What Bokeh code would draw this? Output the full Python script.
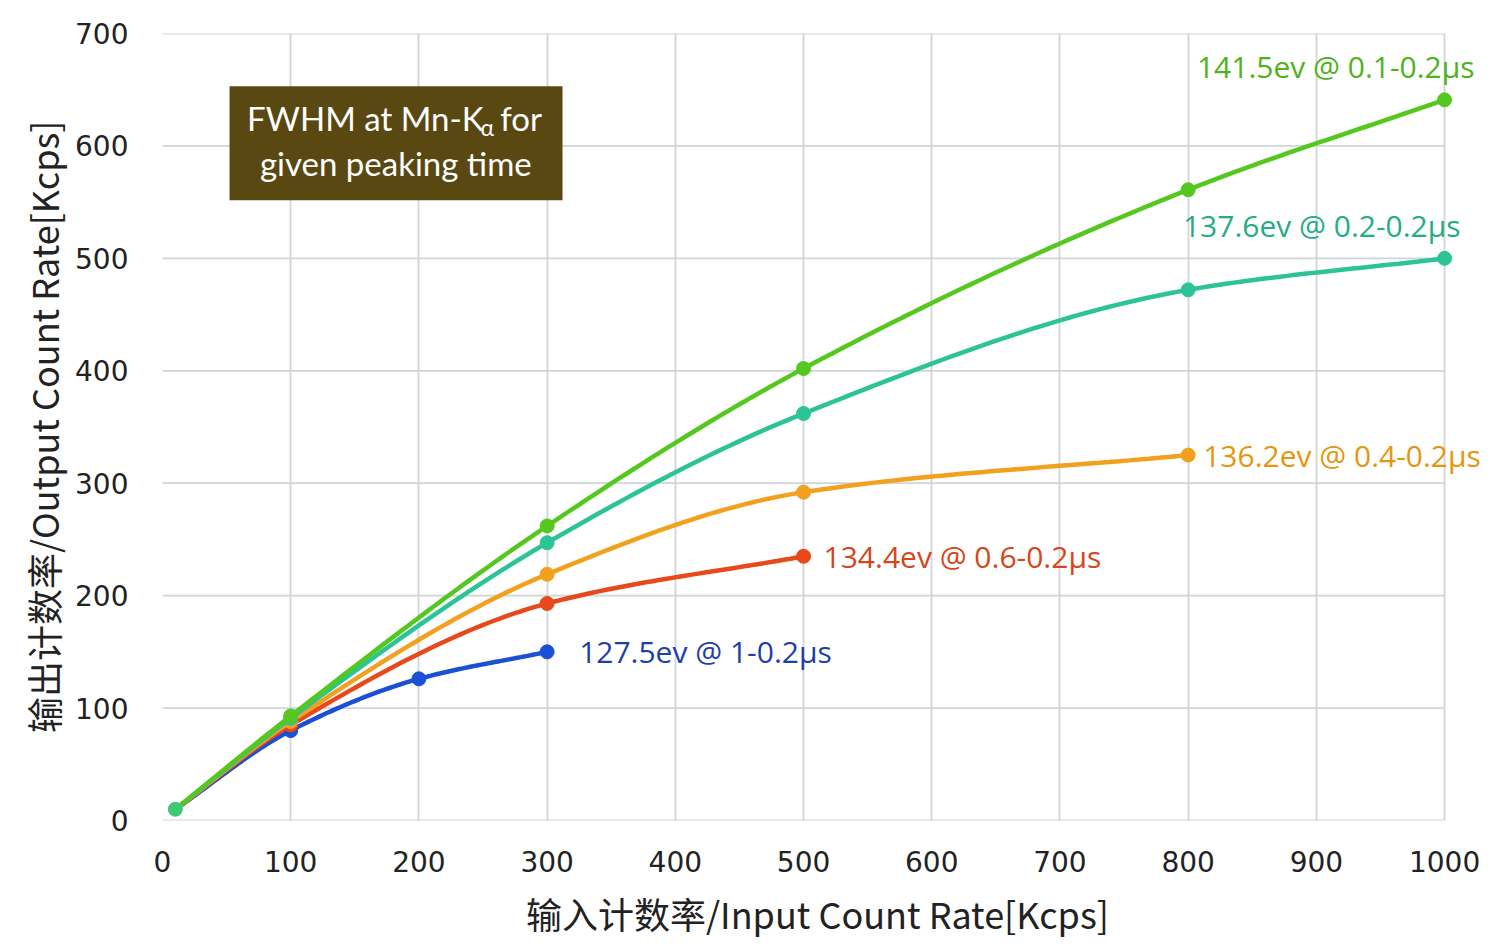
import numpy as np
from bokeh.plotting import figure
from bokeh.models import Range1d, FixedTicker, Label, BoxAnnotation
from bokeh.embed import file_html
from bokeh.resources import INLINE

# ---------------- data ----------------
x_blue = [10, 100, 200, 300]
y_blue = [10, 80, 126, 150]
x_red = [10, 100, 300, 500]
y_red = [10, 85, 193, 235]
x_orange = [10, 100, 300, 500, 800]
y_orange = [10, 88, 219, 292, 325]
x_teal = [10, 100, 300, 500, 800, 1000]
y_teal = [10, 91, 247, 362, 472, 500]
x_green = [10, 100, 300, 500, 800, 1000]
y_green = [10, 93, 262, 402, 561, 641]

labels = ["127.5ev @ 1-0.2μs", "134.4ev @ 0.6-0.2μs", "136.2ev @ 0.4-0.2μs",
          "137.6ev @ 0.2-0.2μs", "141.5ev @ 0.1-0.2μs"]
x_ticks = [0, 100, 200, 300, 400, 500, 600, 700, 800, 900, 1000]
y_ticks = [0, 100, 200, 300, 400, 500, 600, 700]

series = [
    (x_blue, y_blue, "#1a4fd6", "#1e3fa8"),
    (x_red, y_red, "#e8481a", "#d4461c"),
    (x_orange, y_orange, "#f2a11e", "#e5960f"),
    (x_teal, y_teal, "#2cc396", "#24ad85"),
    (x_green, y_green, "#55c81f", "#4fb21c"),
]
# label placement (pixels, relative to last point)
label_style = [
    dict(x_offset=32, y_offset=0, text_align="left"),
    dict(x_offset=20, y_offset=0, text_align="left"),
    dict(x_offset=15, y_offset=0, text_align="left"),
    dict(x_offset=16, y_offset=33, text_align="right"),
    dict(x_offset=30, y_offset=33, text_align="right"),
]


def smooth(xs, ys, n=40):
    """Monotone cubic (Fritsch-Carlson) curve through the given points, for drawing."""
    x = np.asarray(xs, float)
    y = np.asarray(ys, float)
    h = np.diff(x)
    d = np.diff(y) / h
    m = np.zeros_like(x)
    m[0], m[-1] = d[0], d[-1]
    for i in range(1, len(x) - 1):
        if d[i - 1] * d[i] <= 0:
            m[i] = 0
        else:
            w1 = 2 * h[i] + h[i - 1]
            w2 = h[i] + 2 * h[i - 1]
            m[i] = (w1 + w2) / (w1 / d[i - 1] + w2 / d[i])
    outx, outy = [], []
    for i in range(len(x) - 1):
        t = np.linspace(0, 1, n)
        h00 = 2 * t**3 - 3 * t**2 + 1
        h10 = t**3 - 2 * t**2 + t
        h01 = -2 * t**3 + 3 * t**2
        h11 = t**3 - t**2
        outx.extend(x[i] + t * h[i])
        outy.extend(h00 * y[i] + h10 * h[i] * m[i] + h01 * y[i + 1] + h11 * h[i] * m[i + 1])
    return outx, outy


x_max = x_ticks[-1]
y_max = y_ticks[-1]
grid_col = "#d0d5d8"

# frame is widened a little to the right so the series labels can extend past x=1000
p = figure(width=1484, height=941, output_backend="svg", toolbar_location=None,
           x_range=Range1d(0, 1028), y_range=Range1d(0, y_max),
           min_border_left=162, min_border_right=4, min_border_top=33, min_border_bottom=121)
p.background_fill_color = "white"
p.border_fill_color = "white"
p.outline_line_color = None

for ax in (p.xaxis[0], p.yaxis[0]):
    ax.axis_line_color = None
    ax.major_tick_line_color = None
    ax.minor_tick_line_color = None
    ax.major_label_text_font = "DejaVu Sans"
    ax.major_label_text_font_size = "28px"
    ax.major_label_text_color = "#222222"
    ax.axis_label_text_font = "Noto Sans CJK SC"
    ax.axis_label_text_font_size = "36px"
    ax.axis_label_text_font_style = "normal"
    ax.axis_label_text_color = "#222222"

p.xaxis.ticker = FixedTicker(ticks=x_ticks)
p.yaxis.ticker = FixedTicker(ticks=y_ticks)
p.xaxis.axis_label = "输入计数率/Input Count  Rate[Kcps]"
p.yaxis.axis_label = "输出计数率/Output Count Rate[Kcps]"
p.xaxis.major_label_standoff = 24
p.yaxis.major_label_standoff = 28
p.xaxis.axis_label_standoff = 12
p.yaxis.axis_label_standoff = 3

# vertical grid (includes the frame's left/right edges at 0 and 1000)
p.xgrid.grid_line_color = grid_col
p.xgrid.grid_line_width = 1.8
# horizontal grid drawn only across 0..1000 (includes frame's bottom/top edges)
p.ygrid.grid_line_color = None
p.segment(x0=[0] * len(y_ticks), x1=[x_max] * len(y_ticks), y0=y_ticks, y1=y_ticks,
          line_color=grid_col, line_width=1.8, level="underlay")

for (xs, ys, col, tcol), lab, st in zip(series, labels, label_style):
    sx, sy = smooth(xs, ys)
    p.line(sx, sy, line_color=col, line_width=4.5)
    p.scatter(xs[1:], ys[1:], size=14, fill_color=col, line_color=col)
    p.add_layout(Label(x=xs[-1], y=ys[-1], text=lab, text_color=tcol,
                       text_font="Open Sans", text_font_size="30px",
                       text_baseline="middle", level="overlay", **st))

# common starting point
p.scatter([x_green[0]], [y_green[0]], size=14, fill_color="#3dca74", line_color="#3dca74")

# annotation box
box = BoxAnnotation(left=52.3, right=312, bottom=551.6, top=653,
                    fill_color="#5a4812", fill_alpha=1.0, line_color=None, level="overlay")
p.add_layout(box)
tkw = dict(text_color="white", text_font="Lato", text_font_size="33px",
           text_baseline="middle", level="overlay")
p.add_layout(Label(x=66, y=625, text="FWHM at Mn-K", **tkw))
p.add_layout(Label(x=248, y=617, text="α", text_color="white", text_font="Lato",
                   text_font_size="23px", text_baseline="middle", level="overlay"))
p.add_layout(Label(x=263.5, y=625, text="for", **tkw))
p.add_layout(Label(x=182, y=584.5, text="given peaking time", text_align="center", **tkw))

open("out.html", "w").write(file_html(p, INLINE))
